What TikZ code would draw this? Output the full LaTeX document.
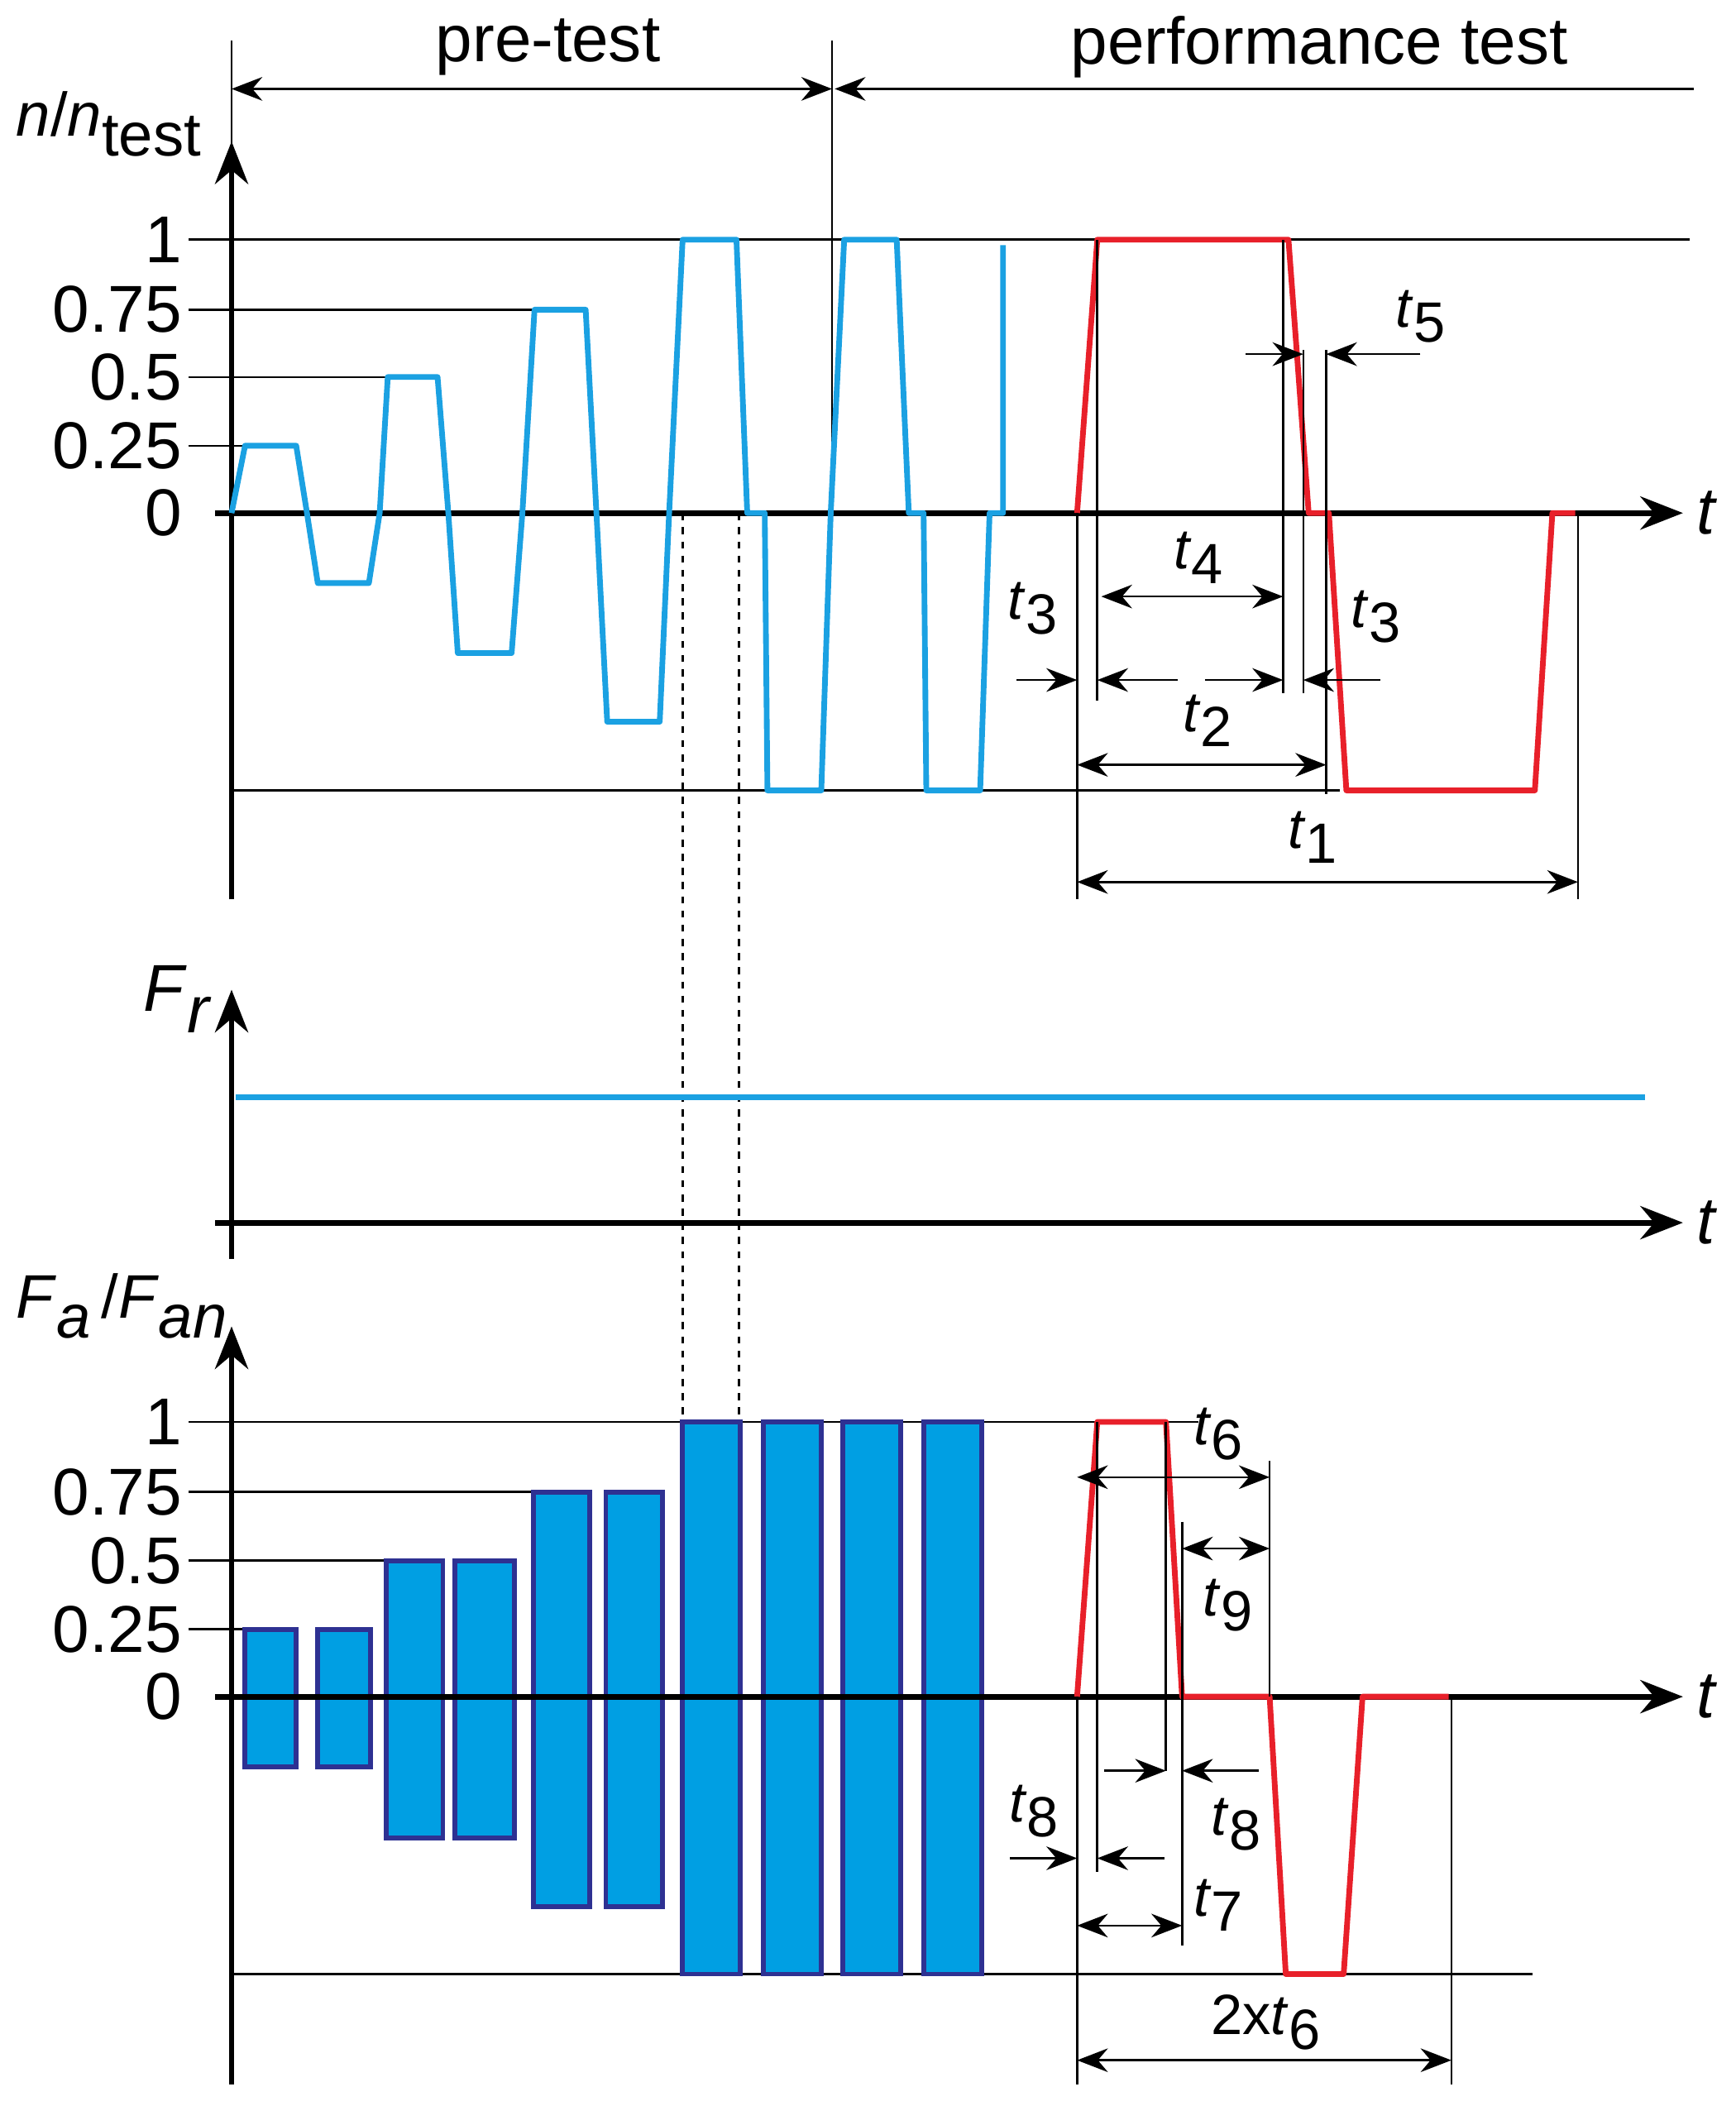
\documentclass[tikz,border=0pt]{standalone}
\usepackage{fontspec}
\setmainfont{Liberation Sans}
\usetikzlibrary{arrows.meta}
\definecolor{cy}{HTML}{1BA1E2}
\definecolor{bar}{HTML}{009FE3}
\definecolor{nav}{HTML}{2E3192}
\definecolor{rd}{HTML}{E8202A}
\newcommand\tsub[1]{\textit{t}\raisebox{-0.5ex}{#1}}
\begin{document}
\begin{tikzpicture}[x=0.02cm,y=-0.02cm,
 ax/.style={line width=2.4pt,-{Stealth[length=18pt,width=14pt]}},
 thin/.style={line width=0.9pt},
 dim/.style={line width=0.9pt,{Stealth[length=13pt,width=10pt]}-{Stealth[length=13pt,width=10pt]}},
 ar/.style={line width=0.9pt,-{Stealth[length=13pt,width=10pt]}},
 wave/.style={line width=2.4pt,line join=round},
 lab/.style={font=\fontsize{28}{30}\selectfont,inner sep=1pt},
 num/.style={lab,anchor=east},
 tl/.style={font=\fontsize{24}{26}\selectfont,inner sep=1pt},
 rect/.style={fill=bar,draw=nav,line width=2pt}]
\useasboundingbox (0,0) rectangle (1289.4,1564);
% ---------- top ----------
\draw[thin] (172,30)--(172,381) (618,30)--(618,381);
\draw[dim] (172,66)--(618,66);
\draw[ar] (1258,66)--(620,66);
\node[lab] (pre) at (407,35) {pre-test};
\node[lab] (perf) at (980,35) {performance test};
\draw[thin] (140,178)--(1255,178) (140,230)--(410,230) (140,280)--(300,280) (140,331)--(195,331) (172,587)--(995,587);
\draw[ax] (172,668)--(172,105);
\draw[ax] (160,381)--(1250,381);
\node[lab,font=\fontsize{26}{28}\selectfont,anchor=west] (nl) at (10,92) {\textit{n}/\textit{n}\raisebox{-0.6ex}{test}};
\node[num] at (137,178) {1};
\node[num] at (137,230) {0.75};
\node[num] at (137,280) {0.5};
\node[num] at (137,331) {0.25};
\node[num] at (137,381) {0};
\node[lab] at (1268,381) {\textit{t}};
\draw[wave,cy] (172,381)--(182,331)--(220,331)--(228,381)--(236,433)--(274,433)--(282,381)--(288,280)--(325,280)--(333,381)--(340,485)--(380,485)--(388,381)--(397,230)--(435,230)--(443,381)--(451,536)--(490,536)--(497,381)--(507,178)--(547,178)--(555,381)--(568,381)--(570,587)--(610,587)--(617,381)--(627,178)--(666,178)--(675,381)--(686,381)--(688,587)--(728,587)--(735,381)--(745,381)--(745,182);
\draw[wave,rd] (800,381)--(815,178)--(957,178)--(972,381)--(987,381)--(1000,587)--(1140,587)--(1153,381)--(1170,381);
\draw[thin] (800,381)--(800,668) (815,178)--(815,520) (953,178)--(953,515) (968,260)--(968,515) (985,260)--(985,590) (1172,381)--(1172,668);
\draw[dim] (818,443)--(953,443);
\draw[ar] (925,263)--(968,263);
\draw[ar] (1055,263)--(985,263);
\draw[ar] (755,505)--(800,505);
\draw[ar] (875,505)--(815,505);
\draw[ar] (895,505)--(953,505);
\draw[ar] (1025,505)--(968,505);
\draw[dim] (800,568)--(985,568);
\draw[dim] (800,655)--(1172,655);
\node[tl] at (767,452) {\tsub{3}};
\node[tl] at (890,414) {\tsub{4}};
\node[tl] at (1022,458) {\tsub{3}};
\node[tl] at (897,535) {\tsub{2}};
\node[tl] at (975,622) {\tsub{1}};
\node[tl] at (1055,235) {\tsub{5}};
\draw[thin,dashed] (507,381)--(507,1056) (549,381)--(549,1056);
% ---------- middle ----------
\draw[ax] (172,935)--(172,735);
\draw[line width=2.4pt,cy] (175,815)--(1222,815);
\draw[ax] (160,908)--(1250,908);
\node[lab] at (132,742) {\textit{F}\raisebox{-0.6ex}{\textit{r}}};
\node[lab] at (1268,908) {\textit{t}};
% ---------- bottom ----------
\draw[thin] (140,1056)--(890,1056) (140,1108)--(440,1108) (140,1159)--(330,1159) (140,1210)--(220,1210) (172,1466)--(1138,1466);
\foreach \a/\b/\t/\u in {182/220/1210/1312,236/275/1210/1312,287/329/1159/1365,338/382/1159/1365,396/438/1108/1416,450/492/1108/1416,507/550/1056/1466,567/610/1056/1466,626/669/1056/1466,686/729/1056/1466}
 \draw[rect] (\a,\t) rectangle (\b,\u);
\draw[ax] (172,1548)--(172,985);
\draw[ax] (160,1260)--(1250,1260);
\node[lab,font=\fontsize{26}{28}\selectfont,anchor=west] at (10,970) {\textit{F}\raisebox{-0.6ex}{\textit{a}}\,/\textit{F}\raisebox{-0.6ex}{\textit{an}}};
\node[num] at (137,1056) {1};
\node[num] at (137,1108) {0.75};
\node[num] at (137,1159) {0.5};
\node[num] at (137,1210) {0.25};
\node[num] at (137,1260) {0};
\node[lab] at (1268,1260) {\textit{t}};
\draw[wave,rd] (800,1260)--(815,1056)--(866,1056)--(878,1260)--(943,1260)--(955,1466)--(998,1466)--(1012,1260)--(1076,1260);
\draw[thin] (800,1260)--(800,1548) (815,1056)--(815,1390) (866,1056)--(866,1315) (878,1130)--(878,1445) (943,1085)--(943,1260) (1078,1260)--(1078,1548);
\draw[dim] (800,1097)--(943,1097);
\draw[dim] (878,1150)--(943,1150);
\draw[ar] (820,1315)--(866,1315);
\draw[ar] (935,1315)--(878,1315);
\draw[ar] (750,1380)--(800,1380);
\draw[ar] (865,1380)--(815,1380);
\draw[dim] (800,1430)--(878,1430);
\draw[dim] (800,1530)--(1078,1530);
\node[tl] at (905,1065) {\tsub{6}};
\node[tl] at (912,1192) {\tsub{9}};
\node[tl] at (918,1355) {\tsub{8}};
\node[tl] at (768,1345) {\tsub{8}};
\node[tl] at (905,1415) {\tsub{7}};
\node[tl] at (940,1502) {2x\tsub{6}};
\end{tikzpicture}
\end{document}
